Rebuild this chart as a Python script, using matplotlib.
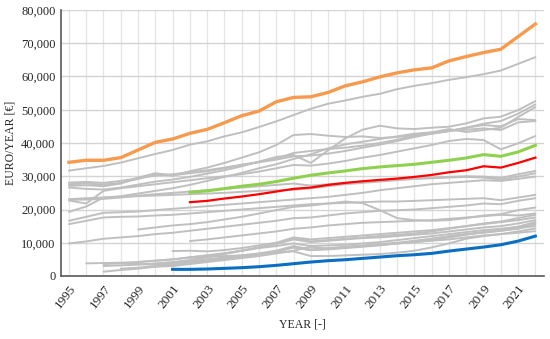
import matplotlib
matplotlib.use("Agg")
import matplotlib.pyplot as plt
from matplotlib.ticker import FuncFormatter, MultipleLocator

plt.rcParams['font.family'] = ['Liberation Serif', 'DejaVu Serif']

years = list(range(1995, 2023))

# Highlighted series (values in thousand EUR/year)
orange_start, orange_k = 1995, [34.2, 34.8, 34.8, 35.6, 37.9, 40.2, 41.2, 42.9, 44.1, 46.1, 48.2, 49.6, 52.4,
                                 53.7, 53.9, 55.2, 57.2, 58.4, 59.9, 61.1, 62.0, 62.6, 64.7, 66.0, 67.2, 68.2,
                                 72.0, 75.8]
green_start, green_k = 2002, [25.2, 25.6, 26.3, 27.0, 27.6, 28.4, 29.4, 30.3, 31.0, 31.6, 32.3, 32.8, 33.2,
                              33.6, 34.2, 34.8, 35.5, 36.5, 36.0, 37.3, 39.3]
red_start, red_k = 2002, [22.2, 22.6, 23.3, 23.9, 24.6, 25.4, 26.2, 26.6, 27.4, 28.0, 28.5, 28.9, 29.3,
                          29.8, 30.4, 31.2, 31.8, 33.0, 32.6, 34.0, 35.6]
blue_start, blue_k = 2001, [2.0, 2.0, 2.1, 2.3, 2.5, 2.8, 3.2, 3.7, 4.2, 4.6, 4.9, 5.3, 5.7, 6.1, 6.4, 6.8,
                            7.5, 8.1, 8.7, 9.4, 10.5, 12.0]

# Other series (grey): (first year, values in thousand EUR/year)
g1 = (1995, [31.7, 32.4, 33.1, 34.1, 35.4, 36.7, 37.9, 39.5, 40.5, 42.0, 43.2, 44.8, 46.5, 48.4, 50.3, 51.8,
             52.8, 53.9, 54.8, 56.2, 57.2, 58.0, 59.0, 59.8, 60.7, 61.8, 63.8, 65.8])
g2 = (1995, [27.6, 27.8, 27.5, 28.0, 29.2, 30.6, 30.2, 31.5, 32.6, 34.0, 35.6, 37.2, 39.4, 42.4, 42.7, 42.2,
             41.8, 42.0, 41.5, 41.8, 42.4, 42.8, 43.6, 44.6, 45.4, 45.0, 47.2, 46.9])
g3 = (1995, [26.6, 26.2, 26.0, 26.6, 27.5, 28.4, 29.0, 29.8, 30.8, 31.8, 33.0, 34.4, 35.8, 36.4, 34.0, 37.8,
             41.4, 44.0, 45.2, 44.4, 44.2, 44.6, 44.9, 45.9, 47.4, 47.9, 49.9, 52.6])
g4 = (1995, [28.1, 28.3, 28.0, 28.6, 29.4, 30.2, 30.6, 31.2, 31.8, 32.6, 33.4, 34.2, 35.0, 36.0, 36.2, 36.8,
             37.6, 38.6, 39.5, 40.6, 41.8, 42.8, 43.6, 44.6, 45.8, 46.6, 48.8, 51.6])
g5 = (1995, [27.1, 27.3, 27.0, 27.8, 29.6, 30.9, 30.3, 30.9, 31.5, 32.4, 33.5, 34.3, 35.3, 37.0, 37.6, 38.2,
             38.6, 39.2, 40.0, 41.0, 42.2, 43.2, 44.2, 43.3, 43.9, 44.6, 47.8, 50.8])
g6 = (1995, [22.7, 21.8, 25.6, 26.4, 27.0, 27.6, 28.2, 28.8, 29.4, 30.0, 30.6, 31.4, 32.4, 33.4, 33.2, 33.8,
             34.6, 35.6, 36.4, 37.4, 38.4, 39.4, 40.6, 41.2, 40.9, 38.1, 39.9, 42.1])
g7 = (1995, [23.1, 23.4, 23.6, 24.0, 24.8, 25.6, 26.4, 27.4, 28.6, 29.8, 31.0, 32.4, 33.6, 35.2, 36.6, 38.4,
             39.6, 40.4, 41.2, 42.0, 42.8, 43.2, 43.6, 44.0, 44.4, 43.9, 46.2, 46.6])
g8 = (1995, [19.3, 20.9, 23.6, 23.8, 24.0, 24.2, 24.4, 24.6, 24.8, 25.0, 25.3, 25.6, 25.8, 25.9, 26.4, 27.0,
             27.6, 28.0, 28.4, 28.8, 29.2, 29.6, 29.8, 30.0, 29.9, 29.5, 30.6, 31.6])
g9 = (1995, [22.9, 23.0, 23.2, 23.6, 24.2, 24.6, 25.0, 25.4, 25.8, 26.2, 26.6, 27.0, 27.4, 27.8, 27.2, 27.6,
             28.0, 28.4, 28.8, 29.0, 29.2, 29.4, 29.6, 29.8, 29.6, 29.0, 29.9, 30.9])
g10 = (1995, [16.6, 17.8, 19.0, 19.2, 19.4, 19.8, 20.2, 20.6, 21.0, 21.4, 21.8, 22.2, 22.6, 23.0, 23.4, 23.8,
              24.4, 25.0, 25.8, 26.4, 27.0, 27.6, 28.0, 28.4, 28.8, 28.6, 29.2, 29.9])
g11 = (1995, [15.6, 16.6, 17.6, 17.8, 17.9, 18.2, 18.4, 18.8, 19.2, 19.6, 20.0, 20.4, 20.8, 21.2, 21.6, 21.8,
              22.0, 22.2, 22.4, 22.4, 22.6, 22.8, 23.0, 23.2, 23.4, 22.8, 23.6, 24.4])
g12 = (1995, [9.8, 10.4, 11.2, 11.6, 12.0, 12.6, 13.0, 13.6, 14.2, 14.8, 15.4, 16.0, 16.6, 17.4, 17.6, 18.2,
              18.8, 19.2, 19.6, 19.8, 20.0, 20.4, 20.8, 21.2, 21.8, 21.6, 22.6, 23.4])
g13 = (1999, [14.0, 14.6, 15.2, 15.6, 16.2, 17.0, 17.8, 18.8, 19.8, 20.8, 21.2, 21.8, 22.4, 21.9, 19.8, 17.4,
              16.8, 16.6, 16.8, 17.4, 18.2, 18.6, 19.8, 20.6])
g14 = (2002, [10.5, 11.0, 11.6, 12.2, 12.8, 13.4, 14.2, 14.6, 15.2, 15.6, 16.0, 16.2, 16.4, 16.6, 16.8, 17.2,
              17.6, 18.0, 18.4, 18.2, 18.8])
g15 = (1996, [3.8, 3.9, 4.0, 4.2, 4.6, 5.0, 5.6, 6.2, 6.8, 7.6, 8.6, 9.6, 11.4, 10.4, 10.8, 11.2, 11.6, 12.0,
              12.4, 12.8, 13.4, 14.2, 15.0, 15.6, 16.2, 16.8, 17.6])
g16 = (1997, [1.3, 1.8, 2.2, 2.8, 3.4, 4.0, 4.6, 5.2, 5.8, 6.4, 7.2, 8.6, 7.8, 8.2, 8.6, 9.0, 9.4, 9.8,
              10.2, 10.8, 11.6, 12.4, 13.2, 14.0, 14.8, 16.2])
g17 = (1997, [3.0, 3.2, 3.4, 3.8, 4.2, 4.8, 5.6, 6.6, 7.6, 8.6, 9.6, 11.0, 10.2, 10.6, 11.0, 11.4, 11.6, 12.0,
              12.4, 12.8, 13.4, 14.0, 14.6, 15.0, 15.8, 16.8])
g18 = (1997, [3.6, 3.8, 3.6, 3.4, 3.8, 4.4, 5.0, 5.6, 6.2, 6.8, 7.6, 9.0, 8.0, 8.4, 8.8, 9.2, 9.6, 10.0,
              10.6, 11.2, 11.8, 12.6, 13.0, 13.6, 14.2, 15.6])
g19 = (1998, [2.2, 2.5, 3.0, 3.6, 4.2, 4.8, 5.4, 6.0, 6.6, 7.4, 8.6, 7.8, 8.0, 8.4, 8.8, 9.2, 9.8, 10.4,
              11.2, 12.0, 12.6, 13.2, 13.6, 14.4, 15.0])
g20 = (2001, [7.5, 7.6, 7.4, 7.8, 8.4, 9.2, 10.0, 11.6, 11.0, 11.4, 11.8, 12.2, 12.6, 13.0, 13.4, 13.8, 14.4,
              15.0, 15.8, 16.4, 17.4, 18.4])
g21 = (1999, [4.2, 4.6, 5.0, 5.6, 6.2, 6.8, 7.6, 8.4, 9.0, 9.8, 9.0, 9.2, 9.4, 9.8, 10.2, 10.8, 11.4, 12.0,
              12.6, 13.2, 13.8, 14.2, 14.8, 16.0])
g22 = (2002, [5.5, 5.8, 6.0, 6.2, 6.6, 7.0, 7.4, 6.0, 6.0, 6.2, 6.4, 6.6, 7.0, 7.6, 8.6, 9.8, 11.2, 12.0,
              12.6, 13.0, 13.5])
g23 = (2000, [2.8, 3.0, 3.6, 4.2, 4.8, 5.4, 6.0, 6.8, 7.6, 8.8, 8.2, 8.6, 9.0, 9.4, 9.8, 10.2, 10.6, 11.0,
              11.6, 12.2, 12.6, 13.4, 14.3])

grey_series = [g1, g2, g3, g4, g5, g6, g7, g8, g9, g10, g11, g12, g13, g14, g15, g16, g17, g18, g19, g20,
               g21, g22, g23]

fig = plt.figure(figsize=(5.5, 3.39), dpi=100)
ax = fig.add_axes([61 / 550, 1 - 276 / 339, (544 - 61) / 550, (276 - 10) / 339])


def xs(start, vals):
    return list(range(start, start + len(vals)))


def ys(vals):
    return [v * 1000 for v in vals]


for start, vals in grey_series:
    ax.plot(xs(start, vals), ys(vals), color='#bfbfbf', lw=1.4, zorder=2, solid_capstyle='round')

ax.plot(xs(blue_start, blue_k), ys(blue_k), color='#0a6fc2', lw=2.2, zorder=4)
ax.plot(xs(red_start, red_k), ys(red_k), color='#ff0000', lw=1.6, zorder=4)
ax.plot(xs(green_start, green_k), ys(green_k), color='#8fd14f', lw=2.2, zorder=4)
ax.plot(xs(orange_start, orange_k), ys(orange_k), color='#f79a4e', lw=2.4, zorder=4)

ax.set_xlim(1994.54, 2022.5)
ax.set_ylim(0, 80000)
ax.set_xticks(list(range(1995, 2023, 2)))
ax.set_xticks(years, minor=True)
ax.yaxis.set_major_locator(MultipleLocator(10000))
ax.yaxis.set_major_formatter(FuncFormatter(lambda v, p: f"{int(v):,}"))

ax.grid(axis='x', which='both', color='#e4e4e4', lw=0.9, zorder=0)
ax.grid(axis='y', which='major', color='#d4d4d4', lw=1.0, zorder=0)
ax.set_axisbelow(True)

for s in ['top', 'right']:
    ax.spines[s].set_visible(False)
for s in ['left', 'bottom']:
    ax.spines[s].set_color('#595959')
    ax.spines[s].set_linewidth(1.2)

ax.tick_params(axis='y', which='both', length=0, labelsize=9, colors='#262626', pad=4)
ax.tick_params(axis='x', which='both', length=0, labelsize=9.5, colors='#262626', pad=5)
for lbl in ax.get_xticklabels():
    lbl.set_rotation(52)
    lbl.set_ha('right')
    lbl.set_rotation_mode('anchor')

ax.set_xlabel('YEAR [-]', fontsize=8.5, color='#262626', labelpad=5)
ax.set_ylabel('EURO/YEAR [€]', fontsize=8.5, color='#262626', labelpad=3)

fig.savefig('out.png', dpi=100)
